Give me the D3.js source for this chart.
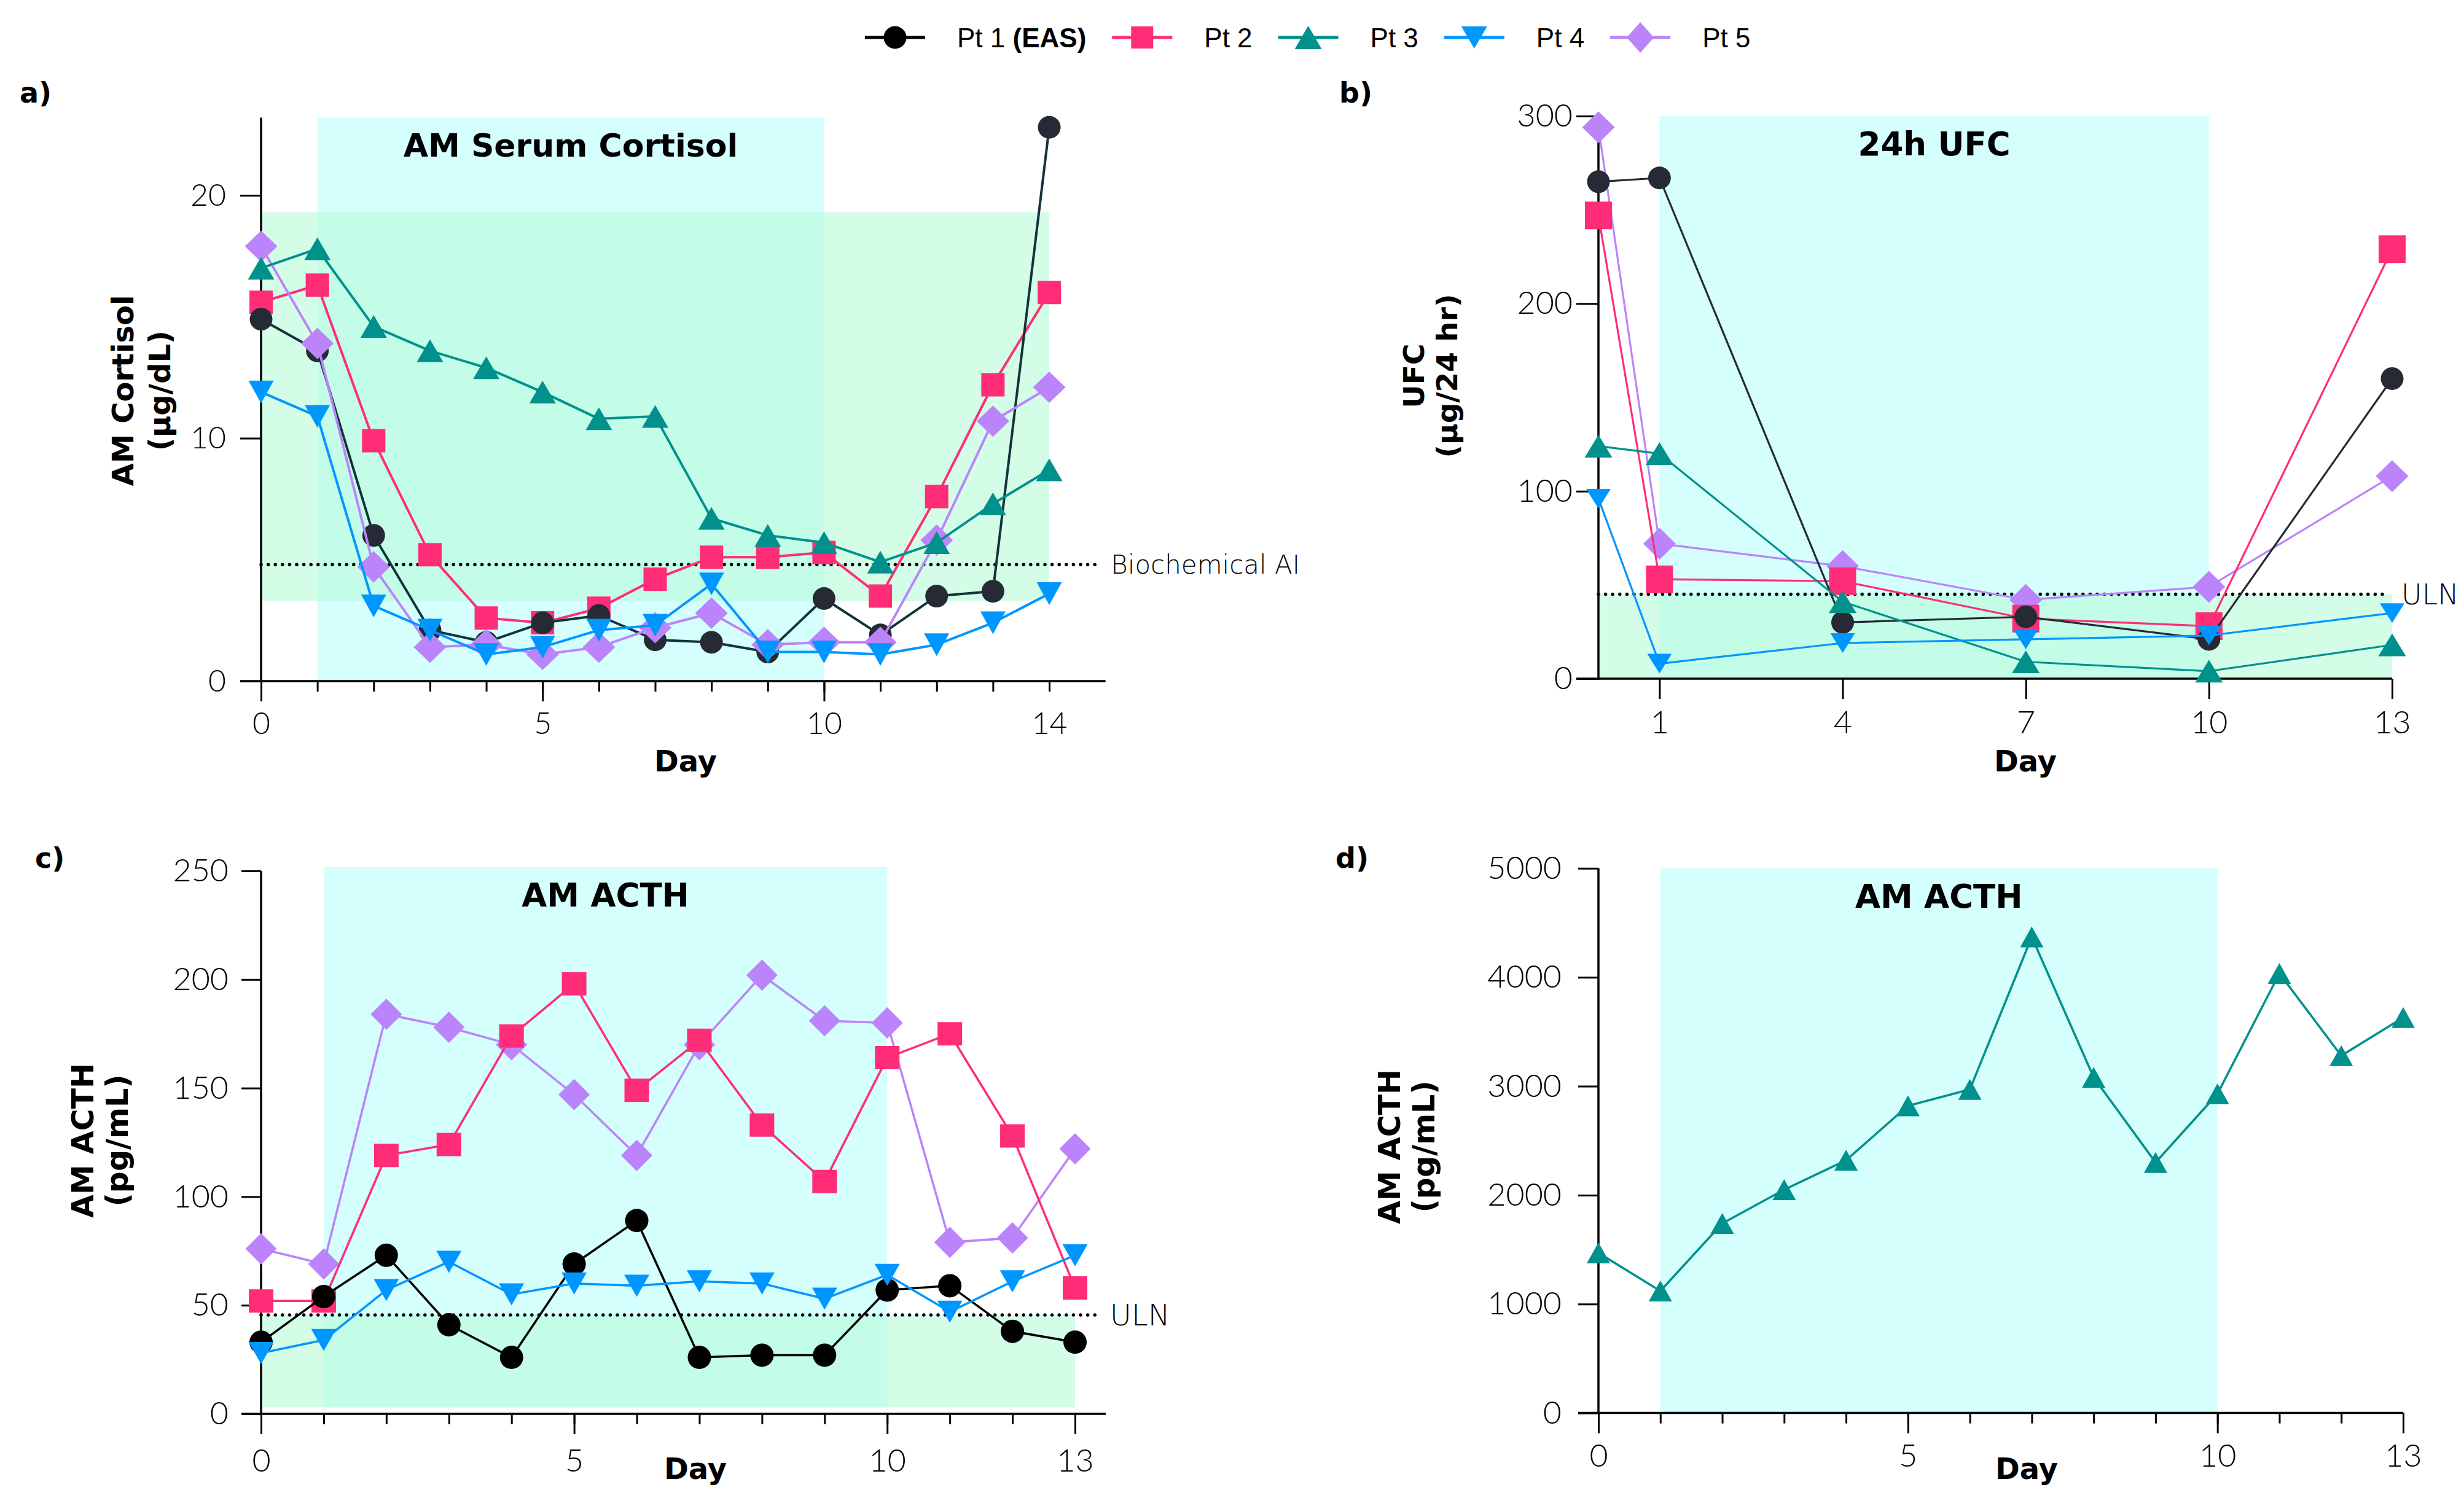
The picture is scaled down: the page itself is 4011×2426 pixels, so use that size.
<!DOCTYPE html>
<html>
<head>
<meta charset="utf-8">
<script src="https://cdn.jsdelivr.net/npm/d3@7"></script>
<style>
  body { margin: 0; background: #fff; }
  svg { display: block; }
</style>
</head>
<body>
<div id="chart"></div>
<script>
// ---- data ----
const daysCortisol = [0, 1, 2, 3, 4, 5, 6, 7, 8, 9, 10, 11, 12, 13, 14];
const pt1Cortisol = [14.9, 13.6, 6.0, 2.1, 1.6, 2.4, 2.7, 1.7, 1.6, 1.2, 3.4, 1.9, 3.5, 3.7, 22.8];
const pt2Cortisol = [15.6, 16.3, 9.9, 5.2, 2.6, 2.4, 3.0, 4.2, 5.1, 5.1, 5.3, 3.5, 7.6, 12.2, 16.0];
const pt3Cortisol = [17.0, 17.8, 14.6, 13.6, 12.9, 11.9, 10.8, 10.9, 6.7, 6.0, 5.7, 4.9, 5.7, 7.3, 8.7];
const pt4Cortisol = [11.9, 10.9, 3.1, 2.1, 1.1, 1.4, 2.1, 2.3, 4.0, 1.2, 1.2, 1.1, 1.5, 2.4, 3.6];
const pt5Cortisol = [17.9, 13.9, 4.7, 1.4, 1.5, 1.1, 1.4, 2.2, 2.8, 1.5, 1.6, 1.6, 5.8, 10.7, 12.1];

const daysUfc = [0, 1, 4, 7, 10, 13];
const pt1Ufc = [265, 267, 30, 33, 21, 160];
const pt2Ufc = [247, 53, 52, 32, 28, 229];
const pt3Ufc = [124, 120, 41, 9, 4, 18];
const pt4Ufc = [96, 8, 19, 21, 23, 35];
const pt5Ufc = [294, 72, 60, 42, 49, 108];

const daysActh = [0, 1, 2, 3, 4, 5, 6, 7, 8, 9, 10, 11, 12, 13];
const pt1Acth = [33, 54, 73, 41, 26, 69, 89, 26, 27, 27, 57, 59, 38, 33];
const pt2Acth = [52, 52, 119, 124, 174, 198, 149, 172, 133, 107, 164, 175, 128, 58];
const pt4Acth = [28, 34, 57, 70, 55, 60, 59, 61, 60, 53, 64, 47, 61, 73];
const pt5Acth = [76, 69, 184, 178, 170, 147, 119, 170, 202, 181, 180, 79, 81, 122];
const pt3Acth = [1470, 1120, 1740, 2050, 2320, 2820, 2970, 4370, 3080, 2300, 2930, 4035, 3280, 3630];

// tick labels
const cortisolTicks = [0, 10, 20];
const ufcTicks = [0, 100, 200, 300];
const acthTicks = [0, 50, 100, 150, 200, 250];
const acthPt3Ticks = [0, 1000, 2000, 3000, 4000, 5000];
const cortisolDayLabels = [0, 5, 10, 14];
const ufcDayLabels = [1, 4, 7, 10, 13];
const acthDayLabels = [0, 5, 10, 13];

// reference ranges
const treatmentWindow = [1, 10];
const cortisolNormal = [3.3, 19.3];
const biochemicalAI = 4.8;
const ufcULN = 45;
const acthULN = 45.5;

// ---- styling ----
const W = 4011, H = 2426;
const CYAN = '#d4fffd', GREEN = '#d4fde7', OVERLAP = '#c3fde8';
const BOLD = '"DejaVu Sans", sans-serif';
const TICK = 'Lato, "Open Sans", sans-serif';
const THIN = '"DejaVu Sans", sans-serif';

const seriesMeta = {
  1: { label: 'Pt 1', bold: '(EAS)', shape: 'circle', color: '#000000' },
  2: { label: 'Pt 2', shape: 'square', color: '#ff2d78' },
  3: { label: 'Pt 3', shape: 'up', color: '#00918d' },
  4: { label: 'Pt 4', shape: 'down', color: '#0096ff' },
  5: { label: 'Pt 5', shape: 'diamond', color: '#bb84fa' },
};

const svg = d3.select('#chart').append('svg')
  .attr('width', W).attr('height', H)
  .style('background', '#fff');

function shapePath(shape, [w, h]) {
  switch (shape) {
    case 'circle': return d3.symbol(d3.symbolCircle, Math.PI * (w / 2) ** 2)();
    case 'square': return `M${-w / 2},${-h / 2}h${w}v${h}h${-w}Z`;
    case 'up': return `M0,${-h / 2}L${w / 2},${h / 2}L${-w / 2},${h / 2}Z`;
    case 'down': return `M0,${h / 2}L${w / 2},${-h / 2}L${-w / 2},${-h / 2}Z`;
    default: return `M0,${-h / 2}L${w / 2},0L0,${h / 2}L${-w / 2},0Z`;
  }
}

const panels = [
  {
    tag: 'a)', tagPos: [32, 167],
    days: daysCortisol,
    series: { 1: pt1Cortisol, 2: pt2Cortisol, 3: pt3Cortisol, 4: pt4Cortisol, 5: pt5Cortisol },
    order: [2, 1, 5, 3, 4],
    xDomain: [0, 14], xRange: [425, 1708], xAxisTo: 15,
    yDomain: [0, 20], yRange: [1109, 318], yTop: 23.2,
    minorTicks: daysCortisol, majorTicks: [0, 5, 10], xLabels: cortisolDayLabels, xPad: 50,
    yTicks: cortisolTicks, yTickLen: 34, yPad: 23, tickFont: 50,
    windowY: [0, 23.2], normal: cortisolNormal, normalX: [0, 14],
    ref: { value: biochemicalAI, to: 14.93, label: 'Biochemical AI', gap: 15, size: 42 },
    title: 'AM Serum Cortisol', titleSize: 52,
    yTitle: ['AM Cortisol', '(µg/dL)'], yTitleX: [217, 277], yTitleY: 636, yTitleSize: 48,
    dayPos: [1116, 1256],
    sizes: { circle: [37, 37], square: [38, 38], up: [43, 37], down: [41, 37], diamond: [53, 51] },
    lineWidth: 4, pt1Color: '#252a35', pt1Line: '#12343a',
  },
  {
    tag: 'b)', tagPos: [2180, 167],
    days: daysUfc,
    series: { 1: pt1Ufc, 2: pt2Ufc, 3: pt3Ufc, 4: pt4Ufc, 5: pt5Ufc },
    order: [5, 2, 1, 3, 4],
    xDomain: [0, 13], xRange: [2602, 3894], xAxisTo: 13,
    yDomain: [0, 300], yRange: [1105, 189], yTop: 300,
    minorTicks: null, majorTicks: ufcDayLabels, xLabels: ufcDayLabels, xPad: 52,
    yTicks: ufcTicks, yTickLen: 36, yPad: 6, tickFont: 52,
    windowY: [0, 300], normal: [0, ufcULN], normalX: [0, 13],
    ref: { value: ufcULN, to: 12.92, label: 'ULN', gap: 23, size: 46 },
    title: '24h UFC', titleSize: 53,
    yTitle: ['UFC', '(µg/24 hr)'], yTitleX: [2318, 2372], yTitleY: 612, yTitleSize: 47,
    dayPos: [3297, 1256],
    sizes: { circle: [37, 37], square: [44, 45], up: [45, 37], down: [40, 32], diamond: [53, 52] },
    lineWidth: 3.2, pt1Color: '#252a35', pt1Line: '#252a35',
  },
  {
    tag: 'c)', tagPos: [57, 1413],
    days: daysActh,
    series: { 1: pt1Acth, 2: pt2Acth, 4: pt4Acth, 5: pt5Acth },
    order: [5, 2, 1, 4],
    xDomain: [0, 13], xRange: [425, 1750], xAxisTo: 13.49,
    yDomain: [0, 250], yRange: [2302, 1418], yTop: 250,
    minorTicks: daysActh, majorTicks: acthDayLabels, xLabels: acthDayLabels, xPad: 57,
    yTicks: acthTicks, yTickLen: 32, yPad: 21, tickFont: 52,
    windowY: [3, 251.7], normal: [3, acthULN], normalX: [0, 13],
    ref: { value: acthULN, to: 13.4, label: 'ULN', gap: 16, size: 48 },
    title: 'AM ACTH', titleSize: 53,
    yTitle: ['AM ACTH', '(pg/mL)'], yTitleX: [152, 208], yTitleY: 1857, yTitleSize: 49,
    dayPos: [1132, 2408],
    sizes: { circle: [38, 38], square: [40, 38], up: [41, 36], down: [41, 36], diamond: [51, 51] },
    lineWidth: 3.6, pt1Color: '#000000', pt1Line: '#000000',
  },
  {
    tag: 'd)', tagPos: [2174, 1413],
    days: daysActh,
    series: { 3: pt3Acth },
    order: [3],
    xDomain: [0, 13], xRange: [2602, 3912], xAxisTo: 13,
    yDomain: [0, 5000], yRange: [2300.6, 1413.8], yTop: 5000,
    minorTicks: daysActh, majorTicks: acthDayLabels, xLabels: acthDayLabels, xPad: 50,
    yTicks: acthPt3Ticks, yTickLen: 33, yPad: 27, tickFont: 52,
    windowY: [0, 5000], normal: null,
    ref: null,
    title: 'AM ACTH', titleSize: 53,
    yTitle: ['AM ACTH', '(pg/mL)'], yTitleX: [2279, 2335], yTitleY: 1867, yTitleSize: 49,
    dayPos: [3299, 2408],
    sizes: { up: [38, 34] },
    lineWidth: 3.6,
  },
];

function drawPanel(p) {
  const g = svg.append('g');
  const x = d3.scaleLinear().domain(p.xDomain).range(p.xRange);
  const y = d3.scaleLinear().domain(p.yDomain).range(p.yRange);

  // shaded treatment window and normal range
  const wx0 = x(treatmentWindow[0]), wx1 = x(treatmentWindow[1]);
  const wy0 = y(p.windowY[1]), wy1 = y(p.windowY[0]);
  g.append('rect').attr('x', wx0).attr('y', wy0)
    .attr('width', wx1 - wx0).attr('height', wy1 - wy0).attr('fill', CYAN);
  if (p.normal) {
    const nx0 = x(p.normalX[0]), nx1 = x(p.normalX[1]);
    const ny0 = y(p.normal[1]), ny1 = y(p.normal[0]);
    g.append('rect').attr('x', nx0).attr('y', ny0)
      .attr('width', nx1 - nx0).attr('height', ny1 - ny0).attr('fill', GREEN);
    const ox0 = Math.max(wx0, nx0), ox1 = Math.min(wx1, nx1);
    const oy0 = Math.max(wy0, ny0), oy1 = Math.min(wy1, ny1);
    g.append('rect').attr('x', ox0).attr('y', oy0)
      .attr('width', ox1 - ox0).attr('height', oy1 - oy0).attr('fill', OVERLAP);
  }

  // dotted reference line
  if (p.ref) {
    g.append('line')
      .attr('x1', x(0)).attr('x2', x(p.ref.to))
      .attr('y1', y(p.ref.value)).attr('y2', y(p.ref.value))
      .attr('stroke', '#000').attr('stroke-width', 5.5)
      .attr('stroke-linecap', 'round').attr('stroke-dasharray', '0 11.6');
    g.append('text')
      .attr('x', x(p.ref.to) + p.ref.gap).attr('y', y(p.ref.value)).attr('dy', '0.36em')
      .attr('font-family', THIN).attr('font-weight', 200).attr('font-size', p.ref.size)
      .text(p.ref.label);
  }

  // panel title inside the treatment window
  g.append('text')
    .attr('x', (wx0 + wx1) / 2).attr('y', y(p.windowY[1]) + 64)
    .attr('text-anchor', 'middle')
    .attr('font-family', BOLD).attr('font-weight', 'bold').attr('font-size', p.titleSize)
    .text(p.title);

  // x axis
  const x0 = y(0);
  const styleTicks = (a) => {
    a.select('.domain').remove();
    a.selectAll('line').attr('stroke', '#000').attr('stroke-width', 3);
  };
  if (p.minorTicks) {
    g.append('g').attr('transform', `translate(0,${x0})`)
      .call(d3.axisBottom(x).tickValues(p.minorTicks).tickSize(17).tickFormat(''))
      .call(styleTicks);
  }
  g.append('g').attr('transform', `translate(0,${x0})`)
    .call(d3.axisBottom(x).tickValues(p.majorTicks).tickSize(33).tickFormat(''))
    .call(styleTicks);
  g.append('g').attr('transform', `translate(0,${x0})`)
    .call(d3.axisBottom(x).tickValues(p.xLabels).tickSize(0).tickPadding(p.xPad).tickFormat(d3.format('d')))
    .call(styleTicks)
    .selectAll('text')
    .attr('font-family', TICK).attr('font-weight', 300).attr('font-size', p.tickFont).attr('fill', '#000');

  // y axis
  g.append('g').attr('transform', `translate(${x(0)},0)`)
    .call(d3.axisLeft(y).tickValues(p.yTicks).tickSize(p.yTickLen).tickPadding(p.yPad).tickFormat(d3.format('d')))
    .call(styleTicks)
    .selectAll('text')
    .attr('font-family', TICK).attr('font-weight', 300).attr('font-size', p.tickFont).attr('fill', '#000');

  g.append('line')
    .attr('x1', x(0) - p.yTickLen).attr('x2', x(p.xAxisTo))
    .attr('y1', x0).attr('y2', x0)
    .attr('stroke', '#000').attr('stroke-width', 3.5);
  g.append('line')
    .attr('x1', x(0)).attr('x2', x(0))
    .attr('y1', x0 + 1.75).attr('y2', y(p.yTop))
    .attr('stroke', '#000').attr('stroke-width', 3.5);

  // series: line then markers, in the figure's stacking order
  p.order.forEach((id) => {
    const meta = seriesMeta[id];
    const vals = p.series[id];
    const pts = vals.map((v, i) => [p.days[i], v]);
    const markColor = id === 1 ? p.pt1Color : meta.color;
    const lineColor = id === 1 ? p.pt1Line : meta.color;
    const line = d3.line().x((d) => x(d[0])).y((d) => y(d[1]));
    g.append('path').datum(pts)
      .attr('fill', 'none').attr('stroke', lineColor)
      .attr('stroke-width', p.lineWidth).attr('stroke-linejoin', 'round')
      .attr('d', line);
    g.append('g').selectAll('path').data(pts).enter().append('path')
      .attr('transform', (d) => `translate(${x(d[0])},${y(d[1])})`)
      .attr('d', shapePath(meta.shape, p.sizes[meta.shape]))
      .attr('fill', markColor);
  });

  // axis titles
  const yt = g.append('g');
  p.yTitle.forEach((t, i) => {
    yt.append('text')
      .attr('transform', `translate(${p.yTitleX[i]},${p.yTitleY}) rotate(-90)`)
      .attr('text-anchor', 'middle')
      .attr('font-family', BOLD).attr('font-weight', 'bold').attr('font-size', p.yTitleSize)
      .text(t);
  });
  g.append('text')
    .attr('x', p.dayPos[0]).attr('y', p.dayPos[1]).attr('text-anchor', 'middle')
    .attr('font-family', BOLD).attr('font-weight', 'bold').attr('font-size', 48)
    .text('Day');
  g.append('text')
    .attr('x', p.tagPos[0]).attr('y', p.tagPos[1])
    .attr('font-family', BOLD).attr('font-weight', 'bold').attr('font-size', 46)
    .text(p.tag);
}

panels.forEach(drawPanel);

// legend across the top
const legendSizes = { circle: [37, 37], square: [36, 36], up: [44, 38], down: [42, 36], diamond: [44, 50] };
const legend = svg.append('g');
const ly = 61;
let lx = 1408;
[1, 2, 3, 4, 5].forEach((id) => {
  const s = seriesMeta[id];
  legend.append('line')
    .attr('x1', lx).attr('x2', lx + 98).attr('y1', ly).attr('y2', ly)
    .attr('stroke', s.color).attr('stroke-width', 5);
  legend.append('path')
    .attr('transform', `translate(${lx + 49},${ly})`)
    .attr('d', shapePath(s.shape, legendSizes[s.shape]))
    .attr('fill', s.color);
  const t = legend.append('text')
    .attr('x', lx + 150).attr('y', ly).attr('dy', '0.36em')
    .attr('font-family', '"Liberation Sans", Arial, sans-serif').attr('font-size', 44);
  t.append('tspan').text(s.label);
  if (s.bold) t.append('tspan').attr('font-weight', 'bold').text(' ' + s.bold);
  lx += 150 + t.node().getComputedTextLength() + 42;
});
</script>
</body>
</html>
